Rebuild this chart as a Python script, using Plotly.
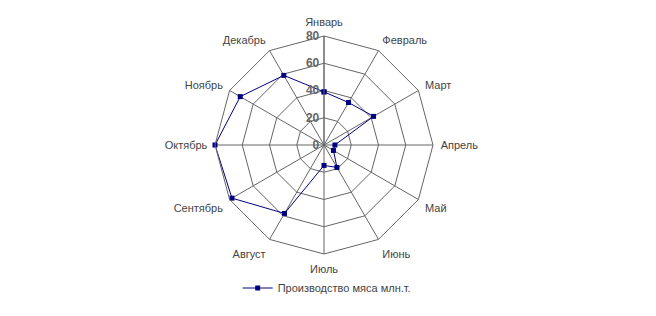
import plotly.graph_objects as go

months = ["Январь", "Февраль", "Март", "Апрель", "Май", "Июнь",
          "Июль", "Август", "Сентябрь", "Октябрь", "Ноябрь", "Декабрь"]
values = [39, 36, 42, 8, 8, 19, 15, 58, 78, 80, 71, 59]
series_name = "Производство мяса млн.т."
tick_vals = [0, 20, 40, 60, 80]

W, H = 656, 316
cx, cy, R = 324, 145, 109

fig = go.Figure()
fig.add_trace(go.Scatterpolar(
    r=values + values[:1],
    theta=months + months[:1],
    mode="lines+markers",
    name=series_name,
    line=dict(color="#000080", width=1),
    marker=dict(symbol="square", size=5, color="#000080"),
))

fig.update_layout(
    width=W, height=H,
    margin=dict(l=0, r=0, t=0, b=0),
    paper_bgcolor="white",
    plot_bgcolor="white",
    font=dict(family="Liberation Sans, Arial, sans-serif", size=11, color="#444444"),
    showlegend=True,
    legend=dict(orientation="h", x=0.498, xanchor="center", y=(H - 288) / H,
                yanchor="middle", font=dict(size=11, color="#444444"),
                bgcolor="rgba(0,0,0,0)"),
    polar=dict(
        domain=dict(x=[(cx - R) / W, (cx + R) / W],
                    y=[(H - cy - R) / H, (H - cy + R) / H]),
        bgcolor="white",
        gridshape="linear",
        radialaxis=dict(
            range=[0, 80],
            tickvals=tick_vals,
            ticktext=[str(v) for v in tick_vals],
            angle=90,
            tickangle=90,
            side="counterclockwise",
            showline=True,
            linecolor="#666666",
            linewidth=1,
            gridcolor="#666666",
            gridwidth=1,
            ticks="",
            tickfont=dict(family="Liberation Sans, Arial, sans-serif", size=12,
                          color="#666666", weight="bold"),
        ),
        angularaxis=dict(
            direction="clockwise",
            rotation=90,
            showline=True,
            linecolor="#666666",
            linewidth=1,
            gridcolor="#666666",
            gridwidth=1,
            ticks="outside",
            ticklen=5,
            tickcolor="rgba(0,0,0,0)",
            tickfont=dict(size=11, color="#444444"),
        ),
    ),
)

fig.write_html("out.html")
